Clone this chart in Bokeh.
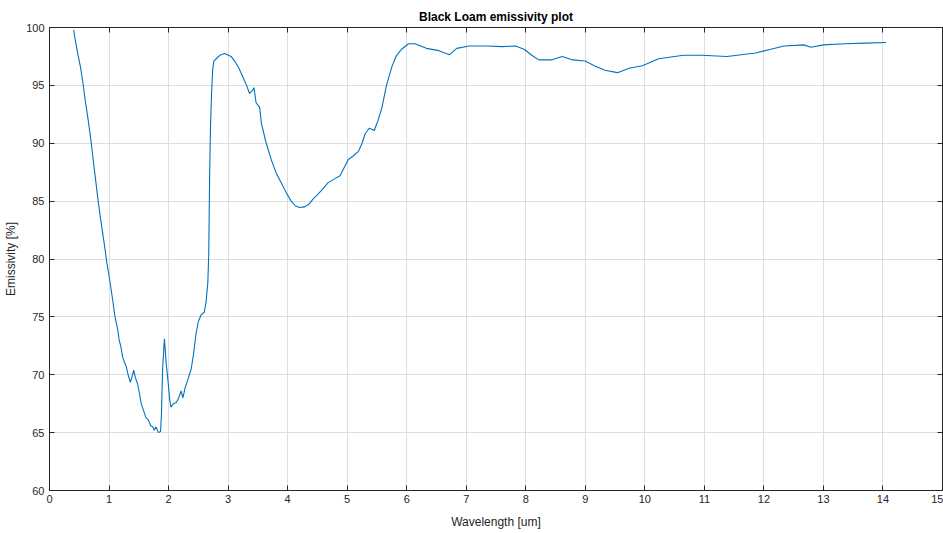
from bokeh.plotting import figure
from bokeh.models import LinearAxis, Range1d, FixedTicker
from bokeh.embed import file_html
from bokeh.resources import INLINE

wavelength = [0.405, 0.43, 0.48, 0.52, 0.557, 0.60, 0.65, 0.697, 0.74, 0.78, 0.81, 0.86, 0.92, 0.96,
              1.005, 1.06, 1.10, 1.146, 1.17, 1.20, 1.23, 1.258, 1.29, 1.32, 1.36, 1.39, 1.415, 1.44,
              1.48, 1.51, 1.54, 1.58, 1.62, 1.66, 1.70, 1.735, 1.76, 1.79, 1.83, 1.865, 1.88, 1.90,
              1.93, 1.96, 1.99, 2.02, 2.04, 2.08, 2.13, 2.17, 2.21, 2.24, 2.28, 2.325, 2.38, 2.42,
              2.46, 2.50, 2.55, 2.60, 2.63, 2.66, 2.675, 2.69, 2.705, 2.72, 2.74, 2.76, 2.80, 2.86,
              2.94, 3.05, 3.11, 3.18, 3.25, 3.31, 3.36, 3.40, 3.435, 3.47, 3.53, 3.56, 3.64, 3.73,
              3.81, 3.90, 3.98, 4.06, 4.13, 4.20, 4.28, 4.35, 4.43, 4.51, 4.60, 4.68, 4.78, 4.88,
              4.95, 5.02, 5.10, 5.19, 5.25, 5.30, 5.37, 5.455, 5.52, 5.58, 5.66, 5.75, 5.82, 5.91,
              6.03, 6.14, 6.33, 6.54, 6.72, 6.84, 7.05, 7.35, 7.60, 7.83, 7.98, 8.10, 8.22, 8.43,
              8.61, 8.79, 9.00, 9.15, 9.33, 9.54, 9.75, 9.96, 10.23, 10.65, 10.95, 11.38, 11.86,
              12.10, 12.34, 12.67, 12.79, 13.0, 13.36, 13.70, 14.05]
emissivity = [99.8, 99.0, 97.6, 96.6, 95.4, 93.7, 92.0, 90.2, 88.3, 86.6, 85.3, 83.4, 81.3, 79.8,
              78.4, 76.5, 75.0, 73.9, 73.0, 72.4, 71.5, 71.1, 70.7, 70.0, 69.35, 69.9, 70.4, 69.8,
              69.2, 68.4, 67.5, 66.9, 66.3, 66.1, 65.6, 65.5, 65.2, 65.5, 65.0, 65.1, 66.5, 70.5,
              73.1, 71.0, 69.5, 67.8, 67.2, 67.5, 67.6, 68.0, 68.6, 68.0, 68.9, 69.6, 70.5, 71.8,
              73.5, 74.6, 75.2, 75.4, 76.3, 78.0, 80.5, 87.3, 91.5, 94.0, 96.3, 97.1, 97.3, 97.6,
              97.75, 97.5, 97.1, 96.5, 95.7, 95.0, 94.3, 94.5, 94.8, 93.5, 93.1, 91.7, 90.0, 88.5,
              87.4, 86.5, 85.7, 85.0, 84.6, 84.45, 84.5, 84.7, 85.2, 85.6, 86.1, 86.6, 86.9, 87.2,
              87.9, 88.6, 88.9, 89.3, 90.0, 90.8, 91.3, 91.1, 92.0, 93.0, 95.0, 96.6, 97.5, 98.1,
              98.6, 98.6, 98.2, 98.0, 97.65, 98.2, 98.4, 98.4, 98.35, 98.4, 98.1, 97.6, 97.2, 97.2,
              97.5, 97.2, 97.1, 96.7, 96.3, 96.1, 96.5, 96.7, 97.3, 97.6, 97.6, 97.5, 97.8,
              98.1, 98.4, 98.5, 98.3, 98.5, 98.6, 98.65, 98.7]

x_ticks = list(range(0, 16))
y_ticks = [60, 65, 70, 75, 80, 85, 90, 95, 100]

AX = "#262626"
FONT = "Liberation Sans"

p = figure(width=943, height=533, output_backend="svg", toolbar_location=None,
           x_range=Range1d(0, 15), y_range=Range1d(60, 100),
           title="Black Loam emissivity plot",
           min_border_left=49, min_border_right=1, min_border_top=27, min_border_bottom=43)
p.background_fill_color = "white"
p.border_fill_color = "white"
p.outline_line_color = AX
p.outline_line_width = 1

p.title.align = "center"
p.title.text_font = FONT
p.title.text_font_size = "12px"
p.title.text_font_style = "bold"
p.title.text_color = "black"
p.title.standoff = 7

p.line(wavelength, emissivity, line_color="#0072BD", line_width=1.1)

for ax in (p.xaxis[0], p.yaxis[0]):
    ax.axis_line_color = AX
    ax.major_tick_line_color = AX
    ax.major_tick_in = 5
    ax.major_tick_out = 0
    ax.minor_tick_line_color = None
    ax.major_label_text_font = FONT
    ax.major_label_text_font_size = "11px"
    ax.major_label_text_color = AX
    ax.axis_label_text_font = FONT
    ax.axis_label_text_font_size = "12px"
    ax.axis_label_text_font_style = "normal"
    ax.axis_label_text_color = AX

p.xaxis[0].ticker = FixedTicker(ticks=x_ticks)
p.yaxis[0].ticker = FixedTicker(ticks=y_ticks)
p.xaxis[0].axis_label = "Wavelength [um]"
p.yaxis[0].axis_label = "Emissivity [%]"
p.xaxis[0].major_label_standoff = 4
p.yaxis[0].major_label_standoff = 5
p.xaxis[0].axis_label_standoff = 9
p.yaxis[0].axis_label_standoff = 5

top = LinearAxis(ticker=FixedTicker(ticks=x_ticks))
right = LinearAxis(ticker=FixedTicker(ticks=y_ticks))
for ax in (top, right):
    ax.axis_line_color = AX
    ax.major_tick_line_color = AX
    ax.major_tick_in = 5
    ax.major_tick_out = 0
    ax.minor_tick_line_color = None
    ax.major_label_text_font_size = "1px"
    ax.major_label_text_color = None
    ax.major_label_standoff = 0
p.add_layout(top, "above")
p.add_layout(right, "right")

p.xgrid.ticker = FixedTicker(ticks=x_ticks)
p.ygrid.ticker = FixedTicker(ticks=y_ticks)
p.grid.grid_line_color = "#dedede"
p.grid.grid_line_width = 1

open("out.html", "w").write(file_html(p, INLINE))
